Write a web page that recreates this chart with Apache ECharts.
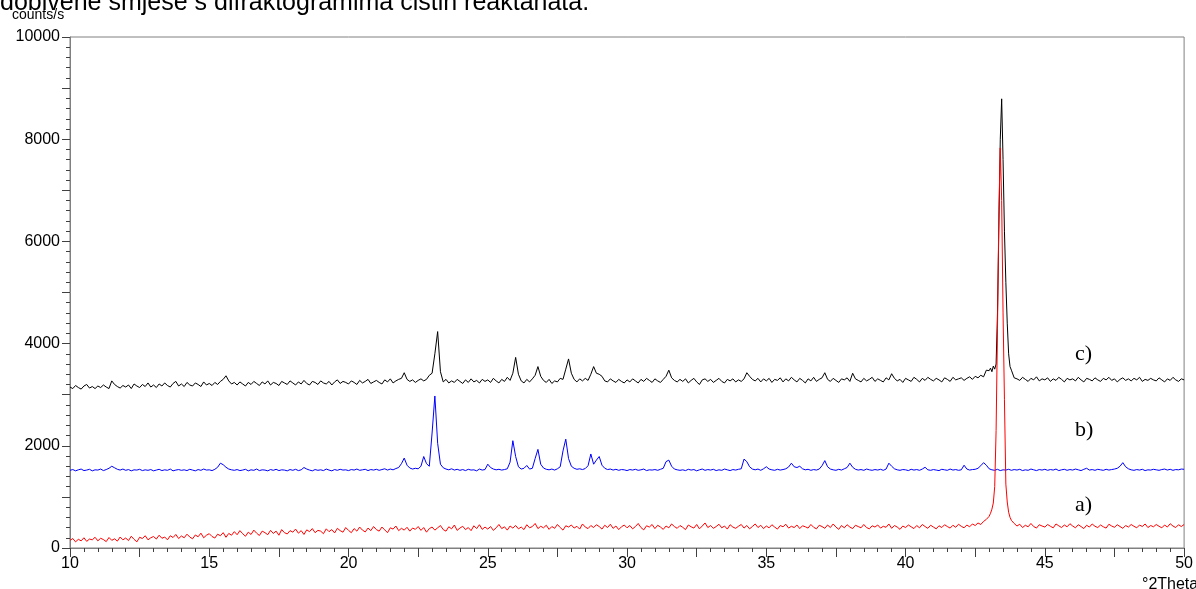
<!DOCTYPE html>
<html>
<head>
<meta charset="utf-8">
<script src="https://cdn.jsdelivr.net/npm/echarts@6/dist/echarts.min.js"></script>
<style>
html,body{margin:0;padding:0;background:#fff;}
#chart{width:1196px;height:589px;}
</style>
</head>
<body>
<div id="chart"></div>
<script>
// x grid: 10.0 .. 50.0 step 0.1 (401 values per series)
const xStart = 10;
const xStep = 0.1;
// extra half-step points around the main reflection
const peakX = [43.05, 43.15, 43.25, 43.35, 43.45, 43.55, 43.65, 43.75];

const xTicks = [10, 15, 20, 25, 30, 35, 40, 45, 50];
const yTicks = [0, 2000, 4000, 6000, 8000, 10000];
const seriesNames = ['c)', 'b)', 'a)'];

// a) red
const aValues = [
150,185,120,170,140,200,130,175,160,210,
140,190,165,125,205,150,180,135,215,160,
195,145,230,170,120,210,185,240,160,200,
225,175,250,190,215,160,240,205,265,185,
235,200,270,215,180,255,220,290,200,250,
280,225,195,270,240,300,210,285,250,320,
260,340,280,230,310,265,350,290,245,330,
300,260,345,285,330,250,360,300,275,340,
310,370,290,340,265,355,320,380,300,345,
330,280,375,320,360,295,385,340,310,400,
345,300,380,330,410,350,315,390,340,420,
360,330,410,355,300,395,370,430,340,385,
350,405,330,390,365,420,345,400,310,380,
410,350,395,440,360,330,415,375,450,345,
390,425,360,400,340,435,380,455,365,410,
370,420,345,395,460,380,415,350,430,390,
440,375,410,360,455,395,420,480,380,425,
395,445,365,420,385,460,400,350,435,410,
450,390,425,370,470,410,380,440,400,455,
420,370,445,400,465,385,430,360,415,450,
395,440,375,420,480,400,355,435,410,460,
380,445,410,365,430,395,470,420,385,440,
405,360,450,415,390,460,375,430,490,400,
440,385,420,465,395,430,370,455,410,385,
425,460,390,440,375,420,470,400,445,380,
430,395,455,410,370,440,415,465,390,425,
400,450,380,435,415,390,460,405,375,445,
420,385,450,400,470,410,365,440,395,455,
410,380,445,420,395,460,400,375,435,410,
450,390,425,405,470,385,440,410,365,430,
400,450,415,380,440,395,460,420,385,445,
410,375,435,400,455,420,390,445,405,465,
425,395,450,415,470,440,490,460,520,560,
620,760,1200,4300,7830,4600,1250,700,540,480,
430,465,400,445,415,480,420,390,455,430,
410,460,425,395,470,435,400,450,415,475,
430,395,455,420,380,445,410,470,425,400,
450,415,390,465,430,405,455,420,385,440,
410,460,425,395,450,420,470,400,440,415,
460,425,395,450,410,475,430,400,455,420,
460
];
const aPeak = [680, 880, 2300, 6600, 6800, 2900, 900, 600];

// b) blue
const bValues = [
1520,1535,1510,1530,1545,1515,1525,1540,1510,1530,
1525,1545,1515,1535,1560,1600,1570,1540,1525,1545,
1520,1535,1510,1530,1525,1540,1515,1530,1520,1535,
1510,1525,1540,1515,1530,1520,1545,1510,1525,1535,
1520,1530,1515,1540,1525,1510,1535,1520,1545,1525,
1530,1515,1540,1580,1660,1630,1580,1545,1530,1520,
1535,1515,1525,1540,1510,1530,1520,1545,1515,1530,
1525,1510,1535,1520,1540,1515,1530,1525,1510,1535,
1520,1540,1515,1530,1575,1545,1525,1510,1535,1520,
1530,1515,1545,1525,1510,1535,1520,1540,1525,1530,
1515,1535,1525,1545,1520,1530,1540,1515,1535,1525,
1540,1520,1535,1550,1525,1545,1530,1555,1575,1650,
1760,1620,1565,1545,1560,1550,1600,1790,1650,1600,
2250,2975,2050,1640,1570,1545,1530,1550,1525,1540,
1520,1535,1515,1540,1525,1530,1510,1545,1525,1535,
1640,1575,1545,1530,1540,1525,1535,1550,1680,2100,
1790,1590,1545,1560,1615,1545,1560,1750,1930,1640,
1565,1540,1530,1545,1525,1550,1590,1900,2130,1750,
1600,1560,1540,1550,1535,1555,1610,1840,1640,1720,
1790,1620,1560,1535,1545,1525,1540,1520,1535,1530,
1515,1535,1525,1540,1520,1530,1545,1515,1530,1525,
1535,1520,1540,1560,1690,1720,1600,1545,1530,1520,
1530,1515,1540,1525,1535,1510,1530,1545,1520,1535,
1525,1540,1515,1530,1520,1545,1530,1515,1535,1525,
1540,1550,1740,1690,1590,1545,1530,1545,1520,1550,
1590,1545,1530,1520,1540,1525,1535,1550,1585,1660,
1590,1575,1600,1550,1530,1540,1520,1535,1525,1545,
1610,1710,1590,1545,1530,1520,1540,1525,1550,1575,
1660,1580,1540,1525,1535,1520,1545,1530,1520,1535,
1525,1540,1520,1545,1660,1600,1550,1530,1520,1535,
1530,1515,1540,1525,1535,1520,1545,1580,1530,1520,
1535,1525,1515,1540,1530,1520,1545,1525,1535,1520,
1530,1620,1545,1525,1535,1540,1560,1610,1670,1620,
1550,1530,1520,1540,1515,1530,1525,1540,1520,1535,
1525,1540,1515,1530,1520,1545,1530,1515,1535,1525,
1540,1520,1535,1525,1545,1515,1530,1540,1520,1535,
1525,1545,1530,1515,1540,1560,1525,1535,1520,1540,
1530,1520,1540,1525,1535,1545,1560,1600,1670,1590,
1550,1530,1520,1535,1525,1540,1515,1530,1525,1540,
1530,1520,1535,1545,1525,1540,1520,1535,1530,1545,
1540
];
const bPeak = [1540, 1525, 1530, 1520, 1535, 1525, 1530, 1520];

// c) black
const cValues = [
3150,3120,3180,3140,3110,3170,3200,3130,3160,3120,
3170,3140,3190,3150,3120,3270,3200,3160,3130,3180,
3150,3190,3120,3210,3170,3140,3200,3160,3230,3150,
3190,3140,3210,3170,3230,3180,3150,3220,3260,3170,
3210,3160,3240,3190,3170,3230,3200,3160,3250,3190,
3220,3180,3240,3200,3260,3300,3370,3270,3210,3240,
3190,3250,3210,3170,3240,3200,3260,3220,3180,3250,
3210,3270,3190,3240,3220,3180,3260,3230,3200,3270,
3230,3190,3250,3210,3280,3220,3190,3260,3240,3200,
3270,3230,3210,3260,3190,3250,3290,3220,3260,3240,
3210,3270,3240,3200,3280,3230,3260,3300,3220,3250,
3280,3240,3210,3290,3250,3310,3230,3270,3300,3320,
3430,3300,3260,3290,3240,3280,3310,3270,3300,3380,
3420,3800,4235,3450,3250,3300,3230,3270,3240,3300,
3260,3220,3290,3240,3310,3250,3280,3230,3300,3260,
3290,3240,3320,3270,3230,3300,3260,3340,3280,3420,
3730,3400,3270,3230,3300,3250,3310,3380,3550,3360,
3280,3240,3300,3220,3270,3250,3320,3300,3500,3700,
3420,3300,3250,3310,3270,3320,3280,3400,3550,3420,
3400,3360,3270,3250,3310,3270,3240,3300,3260,3230,
3290,3250,3310,3270,3230,3300,3260,3320,3280,3240,
3310,3270,3240,3300,3360,3480,3330,3280,3250,3300,
3260,3310,3230,3280,3320,3250,3200,3290,3310,3260,
3300,3240,3280,3320,3260,3230,3300,3270,3310,3250,
3290,3260,3310,3430,3360,3300,3270,3320,3250,3310,
3270,3320,3240,3300,3280,3330,3250,3310,3270,3340,
3290,3250,3320,3280,3230,3310,3270,3340,3260,3300,
3330,3430,3300,3260,3320,3280,3240,3310,3290,3330,
3260,3420,3310,3280,3250,3320,3270,3300,3340,3260,
3310,3280,3250,3330,3290,3410,3320,3270,3300,3240,
3320,3290,3260,3340,3300,3250,3320,3280,3340,3300,
3270,3320,3290,3250,3330,3300,3260,3340,3290,3310,
3330,3280,3320,3350,3300,3360,3330,3380,3350,3480,
3470,3450,3500,4600,8000,7600,5200,3800,3480,3330,
3310,3280,3340,3300,3260,3320,3290,3350,3270,3310,
3290,3330,3260,3310,3280,3340,3300,3250,3320,3290,
3310,3270,3340,3290,3250,3320,3300,3270,3330,3290,
3260,3320,3290,3340,3280,3310,3250,3300,3330,3280,
3310,3270,3320,3290,3340,3260,3300,3280,3320,3290,
3270,3330,3290,3250,3310,3280,3340,3290,3260,3310,
3290
];
const cPeak = [3520, 3560, 3600, 6300, 8790, 6200, 4400, 3550];

function buildPoints(values, peakVals) {
  const pts = values.map((v, i) => [Math.round((xStart + i * xStep) * 100) / 100, v]);
  peakX.forEach((x, j) => pts.push([x, peakVals[j]]));
  pts.sort((p, q) => p[0] - q[0]);
  return pts;
}

const chart = echarts.init(document.getElementById('chart'), null, {renderer: 'canvas'});
const axisGray = '#808080';
const sans = 'Liberation Sans, Arial, sans-serif';
const serif = 'Liberation Serif, Times New Roman, serif';
const labelFont = {color: '#000', fontFamily: sans, fontSize: 16};

const option = {
  animation: false,
  backgroundColor: '#fff',
  grid: {left: 70, right: 8, top: 37, bottom: 41, containLabel: false, show: true, borderColor: axisGray, borderWidth: 1},
  xAxis: {
    type: 'value', min: 10, max: 50, interval: 2.5,
    axisLine: {show: true, lineStyle: {color: axisGray, width: 1}},
    axisTick: {show: true, length: 9, lineStyle: {color: '#404040'}},
    minorTick: {show: true, splitNumber: 5, length: 4, lineStyle: {color: '#404040'}},
    splitLine: {show: false}, minorSplitLine: {show: false},
    axisLabel: Object.assign({margin: 8, formatter: v => xTicks.includes(v) ? String(v) : ''}, labelFont)
  },
  yAxis: {
    type: 'value', min: 0, max: 10000, interval: 1000,
    axisLine: {show: true, lineStyle: {color: axisGray, width: 1}},
    axisTick: {show: true, length: 8, lineStyle: {color: '#404040'}},
    minorTick: {show: true, splitNumber: 5, length: 4, lineStyle: {color: '#404040'}},
    splitLine: {show: false}, minorSplitLine: {show: false},
    axisLabel: Object.assign({margin: 10, formatter: v => yTicks.includes(v) ? String(v) : ''}, labelFont)
  },
  series: [
    {name: seriesNames[0], type: 'line', data: buildPoints(cValues, cPeak), showSymbol: false, symbol: 'none', lineStyle: {color: '#000000', width: 1}, itemStyle: {color: '#000000'}, z: 2},
    {name: seriesNames[1], type: 'line', data: buildPoints(bValues, bPeak), showSymbol: false, symbol: 'none', lineStyle: {color: '#0000ff', width: 1}, itemStyle: {color: '#0000ff'}, z: 3},
    {name: seriesNames[2], type: 'line', data: buildPoints(aValues, aPeak), showSymbol: false, symbol: 'none', lineStyle: {color: '#ff0000', width: 1}, itemStyle: {color: '#ff0000'}, z: 4}
  ],
  graphic: [
    {type: 'text', left: 0, top: -9, style: {text: 'dobivene smjese s difraktogramima čistih reaktanata.', fontFamily: sans, fontSize: 25, fill: '#000'}},
    {type: 'text', left: 12, top: 8, style: {text: 'counts/s', fontFamily: sans, fontSize: 14, fill: '#000'}},
    {type: 'text', left: 1142, top: 577, style: {text: '°2Theta', fontFamily: sans, fontSize: 16, fill: '#000'}},
    {type: 'text', left: 1075, top: 343, style: {text: seriesNames[0], fontFamily: serif, fontSize: 22, fill: '#000'}},
    {type: 'text', left: 1075, top: 419, style: {text: seriesNames[1], fontFamily: serif, fontSize: 22, fill: '#000'}},
    {type: 'text', left: 1075, top: 494, style: {text: seriesNames[2], fontFamily: serif, fontSize: 22, fill: '#000'}}
  ]
};
chart.setOption(option);
</script>
</body>
</html>
